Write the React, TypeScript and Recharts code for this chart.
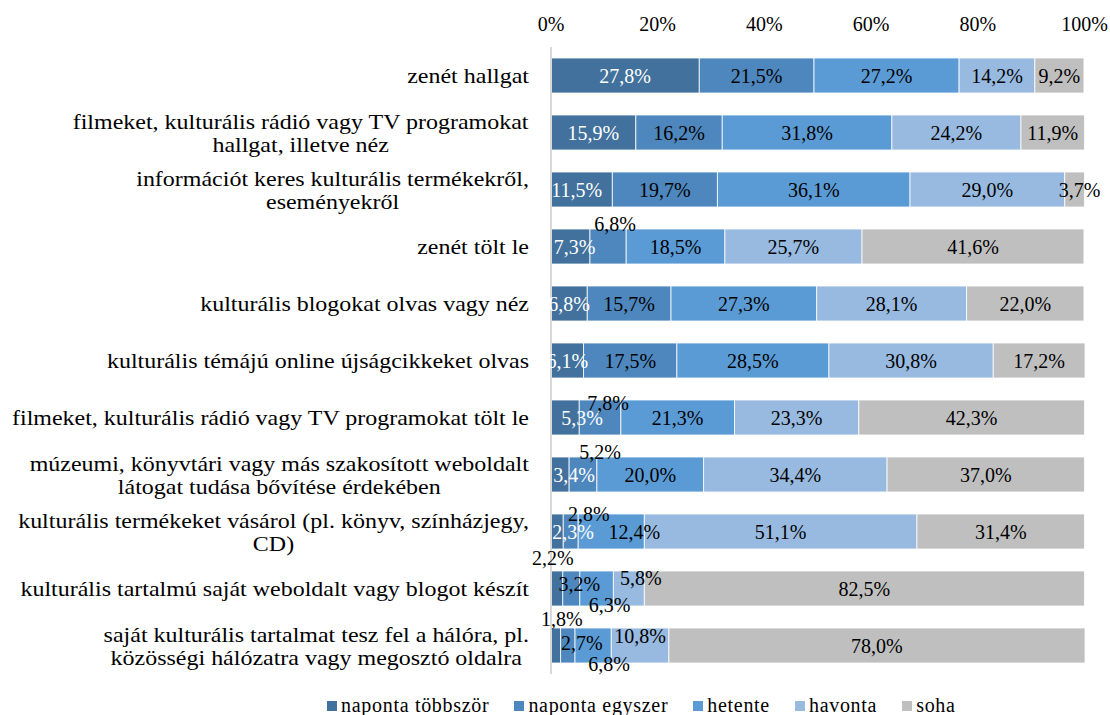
import React from "react";
import { BarChart, Bar, XAxis, YAxis, Legend, LabelList } from "recharts";

const FONT = "Liberation Serif, DejaVu Serif, serif";

const categories = [
  "zenét hallgat",
  "filmeket, kulturális rádió vagy TV programokat\nhallgat, illetve néz",
  "információt keres kulturális termékekről,\neseményekről",
  "zenét tölt le",
  "kulturális blogokat olvas vagy néz",
  "kulturális témájú online újságcikkeket olvas",
  "filmeket, kulturális rádió vagy TV programokat tölt le",
  "múzeumi, könyvtári vagy más szakosított weboldalt\nlátogat tudása bővítése érdekében",
  "kulturális termékeket vásárol (pl. könyv, színházjegy,\nCD)",
  "kulturális tartalmú saját weboldalt vagy blogot készít",
  "saját kulturális tartalmat tesz fel a hálóra, pl.\nközösségi hálózatra vagy megosztó oldalra",
];

const seriesNames = ["naponta többször", "naponta egyszer", "hetente", "havonta", "soha"];

const napontaTobbszor = [27.8, 15.9, 11.5, 7.3, 6.8, 6.1, 5.3, 3.4, 2.3, 2.2, 1.8];
const napontaEgyszer = [21.5, 16.2, 19.7, 6.8, 15.7, 17.5, 7.8, 5.2, 2.8, 3.2, 2.7];
const hetente = [27.2, 31.8, 36.1, 18.5, 27.3, 28.5, 21.3, 20.0, 12.4, 6.3, 6.8];
const havonta = [14.2, 24.2, 29.0, 25.7, 28.1, 30.8, 23.3, 34.4, 51.1, 5.8, 10.8];
const soha = [9.2, 11.9, 3.7, 41.6, 22.0, 17.2, 42.3, 37.0, 31.4, 82.5, 78.0];

const xTicks = [0, 20, 40, 60, 80, 100];

const seriesValues = [napontaTobbszor, napontaEgyszer, hetente, havonta, soha];
const colors = ["#41719c", "#4e87bd", "#5b9bd5", "#98bae0", "#bfbfbf"];

// label nudges (Excel moved the crowded ones), key = row-series
const labelShift: Record<string, [number, number]> = {
  "2-0": [-5, 0],
  "2-4": [5, 0],
  "3-0": [4, 0],
  "3-1": [7, -23],
  "6-0": [17, 0],
  "6-1": [8, -15],
  "7-0": [14, 0],
  "7-1": [17, -23],
  "8-0": [16, 0],
  "8-1": [18, -18],
  "8-2": [23, 0],
  "9-0": [-4, -31],
  "9-1": [8, -5],
  "9-2": [13, 16],
  "9-3": [12, -11],
  "10-0": [6, -27],
  "10-1": [14, -3],
  "10-2": [16, 18],
  "10-3": [0, -10],
};

const data = categories.map((name, i) => {
  const row: Record<string, string | number> = { name };
  seriesNames.forEach((s, j) => (row[s] = seriesValues[j][i]));
  return row;
});

let ctx: CanvasRenderingContext2D | null = null;
function textWidth(t: string, size: number) {
  if (!ctx) ctx = document.createElement("canvas").getContext("2d");
  if (!ctx) return t.length * size * 0.45;
  ctx.font = `${size}px ${FONT}`;
  return ctx.measureText(t).width;
}

const CAT_SIZE = 22;
const CAT_STRETCH = 1.09;

const CategoryTick = (props: any) => {
  const { x, y, payload } = props;
  const lines = String(payload.value).split("\n");
  const right = x - 14;
  const maxW = Math.max(...lines.map((l) => textWidth(l, CAT_SIZE))) * CAT_STRETCH;
  const lh = 23;
  const top = y - ((lines.length - 1) * lh) / 2;
  const multi = lines.length > 1;
  return (
    <g>
      {lines.map((l, i) => (
        <g key={i} transform={`translate(${multi ? right - maxW / 2 : right},${top + i * lh}) scale(${CAT_STRETCH},1)`}>
          <text
            x={0}
            y={0}
            textAnchor={multi ? "middle" : "end"}
            dominantBaseline="central"
            style={{ fontFamily: FONT, fontSize: CAT_SIZE }}
            fill="#000"
          >
            {l}
          </text>
        </g>
      ))}
    </g>
  );
};

const PercentTick = (props: any) => {
  const { x, payload } = props;
  return (
    <text x={x} y={24} textAnchor="middle" dominantBaseline="central" style={{ fontFamily: FONT, fontSize: 20 }} fill="#000">
      {payload.value}%
    </text>
  );
};

const makeLabel = (seriesIdx: number) => (props: any) => {
  const { x, y, width, height, value, index } = props;
  const [dx, dy] = labelShift[`${index}-${seriesIdx}`] ?? [0, 0];
  const white = seriesIdx === 0 && Math.abs(dy) < 20;
  return (
    <text
      x={x + width / 2 + dx}
      y={y + height / 2 + dy}
      textAnchor="middle"
      dominantBaseline="central"
      style={{ fontFamily: FONT, fontSize: 20 }}
      fill={white ? "#fff" : "#000"}
    >
      {Number(value).toFixed(1).replace(".", ",")}%
    </text>
  );
};

const LegendContent = () => (
  <div style={{ display: "flex", alignItems: "center", fontFamily: FONT, fontSize: 20, letterSpacing: 0.7, color: "#000" }}>
    {seriesNames.map((s, i) => (
      <div key={s} style={{ display: "flex", alignItems: "center", marginRight: 25 }}>
        <span style={{ width: 10, height: 10, background: colors[i], marginRight: 4, display: "inline-block" }} />
        <span>{s}</span>
      </div>
    ))}
  </div>
);

export default function App() {
  return (
    <div style={{ position: "absolute", left: 0, top: 0, width: 1110, height: 715, background: "#fff", fontFamily: FONT }}>
      <BarChart
        width={1110}
        height={715}
        data={data}
        layout="vertical"
        margin={{ top: 0, right: 25, bottom: 41, left: 0 }}
      >
        <XAxis
          type="number"
          orientation="top"
          domain={[0, 100]}
          ticks={xTicks}
          axisLine={false}
          tickLine={false}
          height={47}
          tick={<PercentTick />}
        />
        <YAxis
          type="category"
          dataKey="name"
          width={551}
          axisLine={{ stroke: "#d9d9d9", strokeWidth: 2 }}
          tickLine={false}
          tick={<CategoryTick />}
          interval={0}
        />
        <Legend
          layout="horizontal"
          verticalAlign="middle"
          align="center"
          content={<LegendContent />}
          wrapperStyle={{ top: 694, left: 327, width: 780, height: 24 }}
        />
        {seriesNames.map((s, i) => (
          <Bar
            key={s}
            dataKey={s}
            stackId="a"
            fill={colors[i]}
            stroke="#ffffff"
            strokeWidth={0.8}
            barSize={35}
            isAnimationActive={false}
          >
            <LabelList dataKey={s} content={makeLabel(i)} />
          </Bar>
        ))}
      </BarChart>
    </div>
  );
}
